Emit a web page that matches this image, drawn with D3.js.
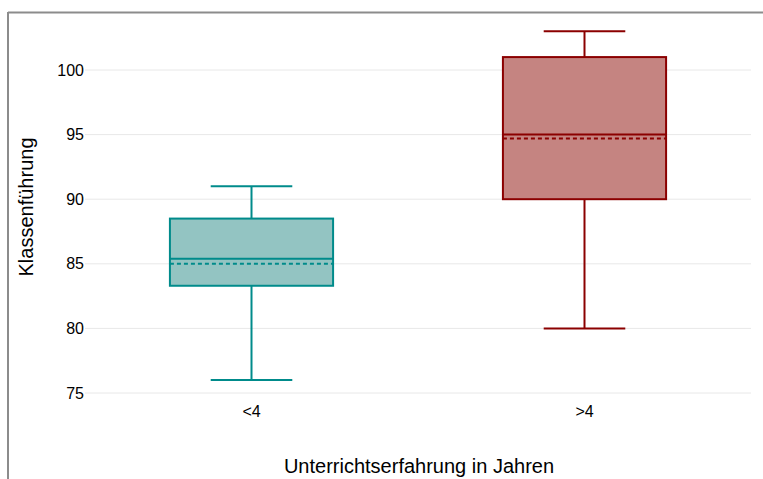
<!DOCTYPE html>
<html lang="de">
<head>
<meta charset="UTF-8">
<title>Klassenführung</title>
<script src="https://cdn.jsdelivr.net/npm/d3@7"></script>
<style>
  body { margin: 0; background: #fff; }
  text { font-family: "Liberation Sans", Arial, sans-serif; fill: #000; }
</style>
</head>
<body>
<div id="app"></div>
<script>
    var categories = ["<4", ">4"];
    var mins = [76, 80];
    var q1s = [83.3, 90];
    var medians = [85.4, 95];
    var means = [85.0, 94.7];
    var q3s = [88.5, 101];
    var maxs = [91, 103];
    var yTicks = [75, 80, 85, 90, 95, 100];
    var strokes = ["#008b8b", "#8b0000"];
    var fills = ["#93c4c2", "#c58481"];

    var width = 763, height = 479;

    var svg = d3.select("#app").append("svg")
        .attr("width", width)
        .attr("height", height);

    // outer frame (top + left only visible)
    svg.append("line").attr("x1", 8).attr("x2", width).attr("y1", 12.5).attr("y2", 12.5)
        .attr("stroke", "#8c8c8c").attr("stroke-width", 2);
    svg.append("line").attr("x1", 8).attr("x2", 8).attr("y1", 12).attr("y2", height)
        .attr("stroke", "#8c8c8c").attr("stroke-width", 2);

    var x = d3.scaleBand().domain(categories).range([85, 751]);
    var y = d3.scaleLinear().domain([75, 100]).range([393, 70]);

    // grid
    svg.append("g").selectAll("line").data(yTicks).enter().append("line")
        .attr("x1", 85).attr("x2", 751)
        .attr("y1", function (d) { return y(d); })
        .attr("y2", function (d) { return y(d); })
        .attr("stroke", "#e8e8e8").attr("stroke-width", 1);

    // y axis labels
    var yAxis = d3.axisLeft(y).tickValues(yTicks).tickSize(0).tickPadding(1);
    var gy = svg.append("g").attr("transform", "translate(85,0)").call(yAxis);
    gy.select(".domain").remove();
    gy.selectAll("text").style("font-size", "16px").style("font-family", "Liberation Sans, Arial, sans-serif");

    // x axis labels
    var xAxis = d3.axisBottom(x).tickSize(0).tickPadding(10);
    var gx = svg.append("g").attr("transform", "translate(0,396)").call(xAxis);
    gx.select(".domain").remove();
    gx.selectAll("text").style("font-size", "16px").style("font-family", "Liberation Sans, Arial, sans-serif");

    var boxW = x.bandwidth() * 0.49;
    var capW = boxW / 2;

    var g = svg.selectAll(".box").data(categories).enter().append("g").attr("class", "box");

    // whiskers
    g.append("line")
        .attr("x1", function (d) { return x(d) + x.bandwidth() / 2; })
        .attr("x2", function (d) { return x(d) + x.bandwidth() / 2; })
        .attr("y1", function (d, i) { return y(maxs[i]); })
        .attr("y2", function (d, i) { return y(q3s[i]); })
        .attr("stroke", function (d, i) { return strokes[i]; }).attr("stroke-width", 2);
    g.append("line")
        .attr("x1", function (d) { return x(d) + x.bandwidth() / 2; })
        .attr("x2", function (d) { return x(d) + x.bandwidth() / 2; })
        .attr("y1", function (d, i) { return y(q1s[i]); })
        .attr("y2", function (d, i) { return y(mins[i]); })
        .attr("stroke", function (d, i) { return strokes[i]; }).attr("stroke-width", 2);
    // caps
    [maxs, mins].forEach(function (arr) {
        g.append("line")
            .attr("x1", function (d) { return x(d) + x.bandwidth() / 2 - capW / 2; })
            .attr("x2", function (d) { return x(d) + x.bandwidth() / 2 + capW / 2; })
            .attr("y1", function (d, i) { return y(arr[i]); })
            .attr("y2", function (d, i) { return y(arr[i]); })
            .attr("stroke", function (d, i) { return strokes[i]; }).attr("stroke-width", 2);
    });

    // box
    g.append("rect")
        .attr("x", function (d) { return x(d) + x.bandwidth() / 2 - boxW / 2; })
        .attr("width", boxW)
        .attr("y", function (d, i) { return y(q3s[i]); })
        .attr("height", function (d, i) { return y(q1s[i]) - y(q3s[i]); })
        .attr("fill", function (d, i) { return fills[i]; })
        .attr("stroke", function (d, i) { return strokes[i]; }).attr("stroke-width", 2);

    // median
    g.append("line")
        .attr("x1", function (d) { return x(d) + x.bandwidth() / 2 - boxW / 2; })
        .attr("x2", function (d) { return x(d) + x.bandwidth() / 2 + boxW / 2; })
        .attr("y1", function (d, i) { return y(medians[i]); })
        .attr("y2", function (d, i) { return y(medians[i]); })
        .attr("stroke", function (d, i) { return strokes[i]; }).attr("stroke-width", 2);
    // mean (dashed)
    g.append("line")
        .attr("x1", function (d) { return x(d) + x.bandwidth() / 2 - boxW / 2; })
        .attr("x2", function (d) { return x(d) + x.bandwidth() / 2 + boxW / 2; })
        .attr("y1", function (d, i) { return y(means[i]); })
        .attr("y2", function (d, i) { return y(means[i]); })
        .attr("stroke", function (d, i) { return strokes[i]; }).attr("stroke-width", 2)
        .attr("stroke-dasharray", "4,3");

    // axis titles
    svg.append("text")
        .attr("transform", "translate(33,207) rotate(-90)")
        .attr("text-anchor", "middle")
        .style("font-size", "20px")
        .text("Klassenführung");
    svg.append("text")
        .attr("x", 419).attr("y", 473)
        .attr("text-anchor", "middle")
        .style("font-size", "20px")
        .text("Unterrichtserfahrung in Jahren");
</script>
</body>
</html>
